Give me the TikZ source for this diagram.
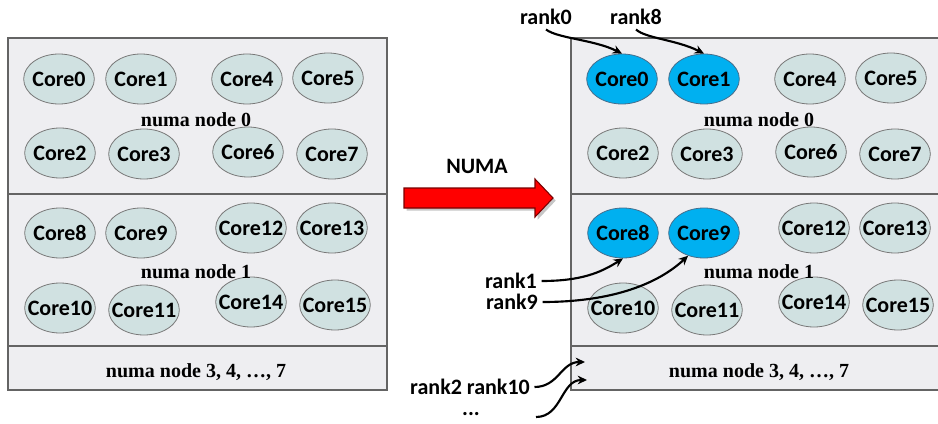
\documentclass[tikz,border=0pt]{standalone}
\usepackage{fontspec}
\usetikzlibrary{arrows.meta,shapes.geometric,shadows}
\newfontfamily\corefont{Carlito}
\newfontfamily\numafont{Liberation Serif}

\begin{document}
\begin{tikzpicture}[x=0.75pt,y=-0.75pt,
    core/.style={ellipse, draw=coreedge, fill=corefill, line width=0.6pt,
        minimum width=53pt, minimum height=37.5pt, inner xsep=-6pt, inner ysep=0pt,
        font=\corefont\bfseries\fontsize{16.5}{16.5}\selectfont},
    pinned/.style={core, fill=pinblue, draw=pinedge},
    numa/.style={font=\numafont\bfseries\fontsize{15}{15}\selectfont, inner sep=1pt},
    rank/.style={font=\corefont\bfseries\fontsize{16.5}{16.5}\selectfont},
    rankarrow/.style={-{Stealth[length=7pt,width=6.5pt]}, line width=1.6pt, black},
    panel/.style={draw=boxedge, fill=boxfill, line width=1.1pt}]

    % Define colors
    \definecolor{corefill}{RGB}{208,225,225}
    \definecolor{coreedge}{RGB}{120,120,120}
    \definecolor{pinblue}{RGB}{0,176,240}
    \definecolor{pinedge}{RGB}{70,110,140}
    \definecolor{boxfill}{RGB}{238,238,241}
    \definecolor{boxedge}{RGB}{100,100,100}
    \definecolor{arrowedge}{RGB}{120,0,0}

    \useasboundingbox (0,0) rectangle (938,424);
    \clip (0,0) rectangle (938,424);

    % Draw the two machines
    \foreach \s/\r in {0/387, 563/952} {
        \draw[panel] (8+\s,38) rectangle (\r,390);
        \draw[boxedge, line width=1.1pt] (8+\s,194) -- (\r,194);
        \draw[boxedge, line width=1.1pt] (8+\s,346) -- (\r,346);
    }

    % Cores, left as they are, right with the ranks on them
    \foreach \i/\x/\y/\st in {0/59/79/pinned, 1/141/79/pinned, 4/247/79/core, 5/328/78/core,
        2/60/153/core, 3/144/154/core, 6/248/152/core, 7/332/154/core,
        8/60/233/pinned, 9/141/233/pinned, 12/251/228/core, 13/332/228/core,
        10/60/308/core, 11/144/310/core, 14/251/302/core, 15/335/305/core} {
        \node[core] (lcore\i) at (\x,\y) {Core\i};
        \node[\st] (rcore\i) at (\x+563,\y) {Core\i};
    }

    % Labels of the numa nodes
    \node[numa] (lnuma0) at (196,120) {numa node 0};
    \node[numa] (lnuma1) at (196,272) {numa node 1};
    \node[numa] (lnumax) at (196,372) {numa node 3, 4, \dots, 7};
    \node[numa] (rnuma0) at (759,120) {numa node 0};
    \node[numa] (rnuma1) at (759,272) {numa node 1};
    \node[numa] (rnumax) at (759,372) {numa node 3, 4, \dots, 7};

    % Big red arrow
    \node[rank] (numa) at (477,166) {NUMA};
    \draw[fill=red, draw=arrowedge, line width=0.8pt,
        drop shadow={shadow xshift=2pt, shadow yshift=-2pt, opacity=0.45}]
        (404,188) -- (535,188) -- (535,179) -- (553,198) -- (535,217)
        -- (535,208) -- (404,208) -- cycle;

    % Ranks and where they go
    \node[rank] (rank0) at (546,17) {rank0};
    \node[rank] (rank8) at (636,17) {rank8};
    \node[rank] (rank1) at (511,281) {rank1};
    \node[rank] (rank9) at (512,302) {rank9};
    \node[rank] (rank2) at (470,387) {rank2 rank10};
    \node[rank] (more) at (471,414) {...};
    \coordinate (tip2) at (585,362);
    \coordinate (tail3) at (536,417);
    \coordinate (tip3) at (587,380);

    \draw[rankarrow] (rank0.south) .. controls +(12,9) and +(-28,-14) .. (rcore0.north);
    \draw[rankarrow] (rank8.south) .. controls +(10,9) and +(-28,-14) .. (rcore1.north);
    \draw[rankarrow] (rank1.east) .. controls +(40,0) and +(-22,14) .. (rcore8.south);
    \draw[rankarrow] (rank9.east) .. controls +(70,0) and +(-30,28) .. (rcore9.235);
    \draw[rankarrow] (rank2.east) .. controls +(24,0) and +(-24,0) .. (tip2);
    \draw[rankarrow] (tail3) .. controls +(26,0) and +(-26,0) .. (tip3);

\end{tikzpicture}
\end{document}
